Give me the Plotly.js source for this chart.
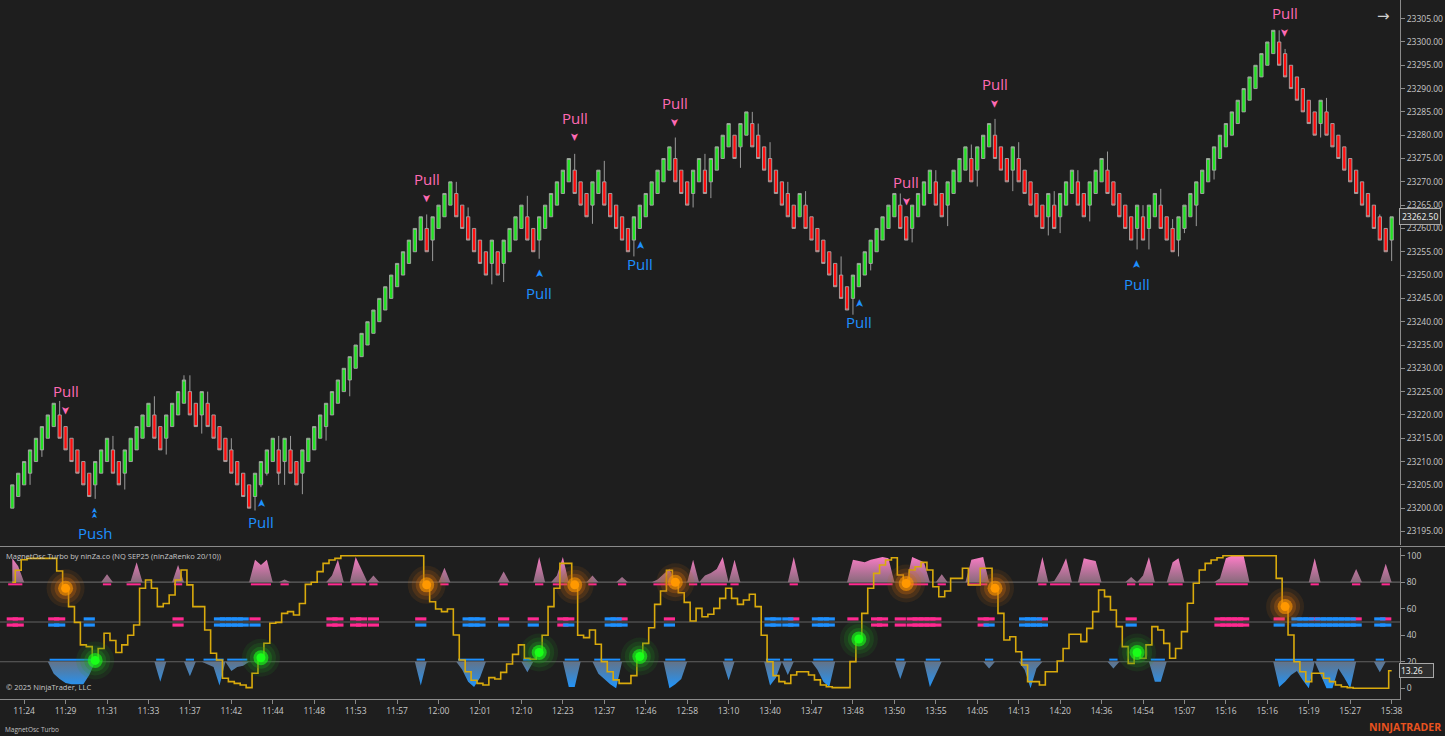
<!DOCTYPE html>
<html>
<head>
<meta charset="utf-8">
<script src="https://cdn.plot.ly/plotly-3.0.1.min.js"></script>
<style>
html,body{margin:0;padding:0;background:#1e1e1e;overflow:hidden;}
#chart{width:1445px;height:736px;}
</style>
</head>
<body>
<div id="chart"></div>
<script>
// ---------------- DATA ----------------
const barOpen = [
23200,23202.5,23205,23207.5,23210,23212.5,23215,23217.5,23220,23217.5,
23215,23212.5,23210,23207.5,23205,23207.5,23210,23212.5,23210,23207.5,
23210,23212.5,23215,23217.5,23220,23217.5,23215,23217.5,23220,23222.5,
23225,23222.5,23220,23222.5,23220,23217.5,23215,23212.5,23210,23207.5,
23205,23202.5,23205,23207.5,23210,23212.5,23210,23212.5,23210,23207.5,
23210,23212.5,23215,23217.5,23220,23222.5,23225,23227.5,23230,23232.5,
23235,23237.5,23240,23242.5,23245,23247.5,23250,23252.5,23255,23257.5,
23260,23257.5,23260,23262.5,23265,23267.5,23265,23262.5,23260,23257.5,
23255,23252.5,23255,23252.5,23255,23257.5,23260,23262.5,23260,23257.5,
23260,23262.5,23265,23267.5,23270,23272.5,23270,23267.5,23265,23267.5,
23270,23267.5,23265,23262.5,23260,23257.5,23260,23262.5,23265,23267.5,
23270,23272.5,23275,23272.5,23270,23267.5,23270,23272.5,23270,23272.5,
23275,23277.5,23280,23277.5,23280,23282.5,23280,23277.5,23275,23272.5,
23270,23267.5,23265,23262.5,23265,23262.5,23260,23257.5,23255,23252.5,
23250,23247.5,23245,23247.5,23250,23252.5,23255,23257.5,23260,23262.5,
23265,23262.5,23260,23262.5,23265,23267.5,23270,23267.5,23265,23267.5,
23270,23272.5,23275,23272.5,23275,23277.5,23280,23277.5,23275,23272.5,
23275,23272.5,23270,23267.5,23265,23262.5,23265,23262.5,23265,23267.5,
23270,23267.5,23265,23267.5,23270,23272.5,23270,23267.5,23265,23262.5,
23260,23262.5,23260,23262.5,23265,23262.5,23260,23257.5,23260,23262.5,
23265,23267.5,23270,23272.5,23275,23277.5,23280,23282.5,23285,23287.5,
23290,23292.5,23295,23297.5,23300,23297.5,23295,23292.5,23290,23287.5,
23285,23282.5,23285,23282.5,23280,23277.5,23275,23272.5,23270,23267.5,
23265,23262.5,23260,23257.5];
const barHigh = [
23205,23207.5,23210,23212.5,23215,23217.5,23220,23222.5,23223,23217.5,
23215,23212.5,23210,23207.5,23210,23212.5,23215,23215.5,23210,23212.5,
23215,23217.5,23220,23222.5,23224,23217.5,23220,23222.5,23225,23228.5,
23228.5,23222.5,23225,23225,23220,23217.5,23215,23215,23210,23207.5,
23205,23207.5,23210,23212.5,23215,23215.5,23215,23215.5,23210,23212.5,
23215,23217.5,23220,23222.5,23225,23227.5,23230,23232.5,23235,23237.5,
23240,23242.5,23245,23247.5,23250,23252.5,23255,23257.5,23260,23262.5,
23263,23262.5,23265,23267.5,23270,23270,23265,23264.5,23260,23257.5,
23255,23257.5,23255,23257.5,23260,23262.5,23265,23267,23260,23262.5,
23265,23267.5,23270,23272.5,23275,23276,23270,23267.5,23270,23272.5,
23274.5,23267.5,23265,23262.5,23260,23262.5,23265,23267.5,23270,23272.5,
23275,23277.5,23279.5,23272.5,23270,23272.5,23275,23276,23275,23277.5,
23280,23282.5,23280,23282.5,23285,23285,23282.5,23277.5,23278.5,23272.5,
23270,23270,23265,23267.5,23268,23262.5,23260,23257.5,23255,23252.5,
23254,23247.5,23250,23252.5,23255,23257.5,23260,23262.5,23265,23267.5,
23267.5,23262.5,23265,23267.5,23270,23272.5,23272.5,23267.5,23270,23272.5,
23275,23277.5,23278,23277.5,23280,23282.5,23283.5,23277.5,23275,23277.5,
23278.5,23272.5,23270,23267.5,23265,23267.5,23268,23267.5,23270,23272.5,
23272.5,23267.5,23270,23272.5,23275,23276.5,23270,23267.5,23265,23262.5,
23265,23265,23265,23267.5,23268.5,23262.5,23262,23262.5,23265,23267.5,
23270,23272.5,23275,23277.5,23280,23282.5,23285,23287.5,23290,23292.5,
23295,23297.5,23300,23302.5,23302.5,23298.5,23295,23292.5,23290,23287.5,
23285,23287.5,23288,23282.5,23280,23277.5,23275,23272.5,23270,23267.5,
23265,23263,23260,23262.5];
const barLow = [
23200,23202.5,23205,23205,23210,23211,23215,23217.5,23215,23212.5,
23210,23207.5,23205,23202.5,23202,23207.5,23210,23207.5,23205,23204,
23210,23212.5,23215,23217.5,23215,23212.5,23211.5,23217.5,23220,23222.5,
23220,23217.5,23216,23217.5,23215,23212.5,23210,23207.5,23205,23202.5,
23200,23199.5,23204.5,23207,23210,23205,23205,23207.5,23205,23203,
23210,23212.5,23215,23214.5,23220,23222.5,23225,23224,23230,23232.5,
23235,23237.5,23240,23242.5,23245,23247.5,23250,23252.5,23255,23257.5,
23255,23253,23260,23262.5,23265,23262.5,23260,23257.5,23255,23252.5,
23250,23248,23250,23248.5,23255,23257.5,23260,23257.5,23255,23253.5,
23260,23262.5,23265,23267.5,23270,23267.5,23265,23262.5,23261,23267.5,
23265,23262.5,23260,23257.5,23255,23254,23260,23262.5,23265,23267.5,
23270,23272.5,23270,23267.5,23265,23264.5,23270,23267.5,23266.5,23272.5,
23275,23277.5,23275,23273,23280,23277.5,23275,23272.5,23270,23267.5,
23265,23262.5,23260,23262.5,23260,23257.5,23255,23252.5,23250,23247.5,
23245,23242.5,23241.5,23247.5,23250,23251,23255,23257.5,23260,23262.5,
23260,23257.5,23257,23262.5,23265,23267.5,23265,23262.5,23260.5,23267.5,
23270,23272.5,23270,23269,23275,23277.5,23275,23272.5,23270,23268,
23270,23267.5,23265,23262.5,23260,23258.5,23260,23259,23265,23267.5,
23265,23262.5,23261.5,23267.5,23270,23267.5,23265,23262.5,23260,23257.5,
23255.5,23257.5,23255.5,23262.5,23260,23257.5,23255,23254,23259,23262.5,
23260.5,23267.5,23270,23270.5,23275,23277.5,23280,23282.5,23285,23287.5,
23290,23292.5,23295,23297.5,23295,23292.5,23290,23287.5,23285,23282.5,
23280,23279.5,23280,23277.5,23275,23272.5,23270,23267.5,23265,23262.5,
23260,23257.5,23255,23253];
const barClose = [
23205,23207.5,23210,23212.5,23215,23217.5,23220,23222.5,23215,23212.5,
23210,23207.5,23205,23202.5,23210,23212.5,23215,23207.5,23205,23212.5,
23215,23217.5,23220,23222.5,23215,23212.5,23220,23222.5,23225,23227.5,
23220,23217.5,23225,23217.5,23215,23212.5,23210,23207.5,23205,23202.5,
23200,23207.5,23210,23212.5,23215,23207.5,23215,23207.5,23205,23212.5,
23215,23217.5,23220,23222.5,23225,23227.5,23230,23232.5,23235,23237.5,
23240,23242.5,23245,23247.5,23250,23252.5,23255,23257.5,23260,23262.5,
23255,23262.5,23265,23267.5,23270,23262.5,23260,23257.5,23255,23252.5,
23250,23257.5,23250,23257.5,23260,23262.5,23265,23257.5,23255,23262.5,
23265,23267.5,23270,23272.5,23275,23267.5,23265,23262.5,23270,23272.5,
23265,23262.5,23260,23257.5,23255,23262.5,23265,23267.5,23270,23272.5,
23275,23277.5,23270,23267.5,23265,23272.5,23275,23267.5,23275,23277.5,
23280,23282.5,23275,23282.5,23285,23277.5,23275,23272.5,23270,23267.5,
23265,23262.5,23260,23267.5,23260,23257.5,23255,23252.5,23250,23247.5,
23245,23242.5,23250,23252.5,23255,23257.5,23260,23262.5,23265,23267.5,
23260,23257.5,23265,23267.5,23270,23272.5,23265,23262.5,23270,23272.5,
23275,23277.5,23270,23277.5,23280,23282.5,23275,23272.5,23270,23277.5,
23270,23267.5,23265,23262.5,23260,23267.5,23260,23267.5,23270,23272.5,
23265,23262.5,23270,23272.5,23275,23267.5,23265,23262.5,23260,23257.5,
23265,23257.5,23265,23267.5,23260,23257.5,23255,23262.5,23265,23267.5,
23270,23272.5,23275,23277.5,23280,23282.5,23285,23287.5,23290,23292.5,
23295,23297.5,23300,23302.5,23295,23292.5,23290,23287.5,23285,23282.5,
23280,23287.5,23280,23277.5,23275,23272.5,23270,23267.5,23265,23262.5,
23260,23257.5,23255,23262.5];

const timeLabels = ['11:24','11:29','11:31','11:33','11:37','11:42','11:44','11:48','11:53','11:57',
  '12:00','12:01','12:10','12:23','12:37','12:46','12:58','13:10','13:40','13:47','13:48','13:50',
  '13:55','14:05','14:13','14:20','14:36','14:54','15:07','15:16','15:16','15:19','15:27','15:38'];

// oscillator (yellow step line)
const oscValue = [
80,89,97,98,98,98,98,98,88.5,75.4,
61.6,49.7,32.7,31.4,21,30,41.5,36,27,32.7,
40,47.7,75.4,81.7,75.4,61.6,64,70.4,81.7,89.2,
78,61.6,61.6,44,26.4,21.3,7.5,5,3.7,2.5,
0.5,11.3,23,34,49,49.7,56.5,57.8,55.3,64,
78.4,80,88,94.2,96.8,98,100,100,100,100,
100,100,100,100,100,100,100,100,100,100,
78,65.3,59.8,57.8,59.8,40.2,21.3,12.5,6,3.7,
2.5,8,7,12,18.3,25.6,32.7,22.6,22,27,
40,61.6,75.4,94.2,94.2,78,40,38.2,44,33.2,
20.1,12.5,6.3,3.7,3.7,9.5,24,33.9,45.7,63.3,
73.4,89,80,72,64.8,50.8,60.3,54,55.8,60.3,
67.8,75.4,67.8,63.3,66.6,70.9,61.6,40,20,9.5,
5,3.7,10,12.5,12.5,10,6.3,2.5,1.2,0.5,
0.5,0.5,20.1,37.2,56.5,75.4,86.7,93,96.8,98.5,
85.4,79,89.2,91.7,95,89.2,76.6,69,73.4,82.9,
82.9,90.5,77.9,77.9,90.5,90.5,75.4,56.5,36.4,38.9,
27.6,17.6,5,5,2.5,12.5,12.5,20.6,30,40.7,
40.7,35.2,45.2,57.8,74.1,69.1,59,46.5,31.4,18.8,
27,22.6,32.7,46.5,44,33.9,22.6,30,42.7,64.1,
79.2,89.2,94.2,96.8,98.5,100,100,100,100,100,
100,100,100,100,82.9,61.6,40.2,20,12.5,5,
11.3,11.3,7.5,5,2.5,1.2,0.5,0,0,0,
0,0,0,13.26];

// overbought (pink, above 80) and oversold (blue, below 20) zones
const pinkIdx = [0,1,16,20,21,28,41,42,43,46,54,55,58,59,61,73,83,89,92,93,98,103,109,110,111,115,117,118,119,120,122,132,142,143,144,145,146,147,148,152,153,154,157,162,163,164,174,176,177,178,181,182,183,189,191,192,196,197,204,205,206,207,208,220,227,232];
const pinkVal = [98,92,86,81,95,93,97,93,97,82,85,97,99,90,85,91,88,99,85,99,85,84,82,86,90,97,85,87,90,99,97,99,97,96,95,97,98,99,98,99,97,95,86,97,98,99,99,81,88,98,98,97,96,84,85,99,95,98,83,98,100,100,100,98,90,94];
const blueIdx = [7,8,9,10,11,12,13,25,30,33,34,35,37,38,39,69,76,77,78,79,87,94,95,99,100,101,102,111,112,113,121,128,129,131,136,137,138,150,155,156,165,171,172,173,186,193,194,214,215,216,217,218,219,221,222,223,224,225,226,231];
const blueVal = [11,7,4,3,3,3,10,5,9,18,16,2,13,16,17,2,14,5,1,8,12,1,1,11,7,3,0,0,3,7,6,2,8,10,14,5,1,7,1,10,15,14,0,15,15,5,5,1,5,10,13,6,0,10,0,0,15,8,0,12];

// signal dashes around the 50 line
const sigTopPink = [0,1,7,8,28,41,54,55,58,59,61,69,83,88,93,94,103,111,132,142,146,147,150,152,153,154,155,156,164,165,174,189,204,205,206,207,208,214,220,227,232];
const sigTopBlue = [13,35,36,37,38,39,77,78,79,101,102,128,129,131,136,137,138,171,172,173,217,218,219,221,222,223,224,225,226,231];
const sigBotPink = [0,1,28,54,55,58,59,61,93,146,147,150,152,153,154,155,156,164,204,205,206,207,208];
const sigBotBlue = [7,8,13,35,36,37,38,39,41,69,77,78,79,83,88,94,101,102,103,111,128,129,131,132,136,137,138,165,171,172,173,174,189,214,217,218,219,220,221,222,223,224,225,226,227,231,232];

// glowing dots
const orangeIdx = [9,70,95,112,151,166,215];
const greenIdx = [14,42,89,106,143,190];

// price signals
const pullDownIdx = [9,70,95,112,151,166,215];
const pullDownPrice = [23221,23266.5,23279.6,23282.8,23265.9,23286.9,23302.1];
const pullUpIdx = [42,89,106,143,190];
const pullUpPrice = [23201.1,23250.2,23256.4,23244,23252.2];
const pushIdx = [14];
const pushPrice = [23198.8];

// ---------------- BUILD ----------------
const N = barClose.length;
const idx = Array.from({length: N}, (_, i) => i);
const W = 1400, H = 699;
const px = x => x / W;
const py = y => (H - y) / H;
const XR = [-2.078, 234.41];
const PINK = '#ff6ab4', BLUE = '#1e90ff', FONT = 'Open Sans, Noto Sans, sans-serif';

const pinkFull = idx.map(() => 80);
pinkIdx.forEach((k, j) => { pinkFull[k] = pinkVal[j]; });
const blueFull = idx.map(() => 20);
blueIdx.forEach((k, j) => { blueFull[k] = blueVal[j]; });

function runs(list) {
  const s = [...list].sort((a, b) => a - b);
  const out = []; let st = s[0], pr = s[0];
  for (let k = 1; k < s.length; k++) {
    if (s[k] === pr + 1) pr = s[k]; else { out.push([st, pr]); st = s[k]; pr = s[k]; }
  }
  out.push([st, pr]);
  return out;
}
function segs(list, yv) {
  const xs = [], ys = [];
  runs(list).forEach(([a, b]) => { xs.push(a - 0.7, b + 0.7, null); ys.push(yv, yv, null); });
  return {xs, ys};
}

const traces = [];
traces.push({
  type: 'candlestick', x: idx, open: barOpen, high: barHigh, low: barLow, close: barClose,
  xaxis: 'x', yaxis: 'y', whiskerwidth: 0, hoverinfo: 'skip', showlegend: false,
  increasing: {fillcolor: '#22e222', line: {color: '#a8a8a8', width: 0.9}},
  decreasing: {fillcolor: '#ff0d0d', line: {color: '#a8a8a8', width: 0.9}}
});

// pink zone
traces.push({type: 'scatter', x: idx, y: idx.map(() => 80), mode: 'lines', line: {width: 0}, xaxis: 'x', yaxis: 'y2', hoverinfo: 'skip', showlegend: false});
traces.push({type: 'scatter', x: idx, y: pinkFull, mode: 'lines', line: {width: 0}, fill: 'tonexty',
  fillcolor: 'rgba(230,130,180,0.85)',
  fillgradient: {type: 'vertical', start: 80, stop: 100, colorscale: [[0, 'rgba(150,115,135,0.9)'], [1, 'rgba(255,125,200,1)']]},
  xaxis: 'x', yaxis: 'y2', hoverinfo: 'skip', showlegend: false});
// blue zone
traces.push({type: 'scatter', x: idx, y: idx.map(() => 20), mode: 'lines', line: {width: 0}, xaxis: 'x', yaxis: 'y2', hoverinfo: 'skip', showlegend: false});
traces.push({type: 'scatter', x: idx, y: blueFull, mode: 'lines', line: {width: 0}, fill: 'tonexty',
  fillcolor: 'rgba(60,140,230,0.85)',
  fillgradient: {type: 'vertical', start: 0, stop: 20, colorscale: [[0, 'rgba(30,150,255,1)'], [1, 'rgba(105,125,150,0.9)']]},
  xaxis: 'x', yaxis: 'y2', hoverinfo: 'skip', showlegend: false});

// zone base lines
const ps = segs(pinkIdx, 78.4), bs = segs(blueIdx, 21.6);
traces.push({type: 'scatter', x: ps.xs, y: ps.ys, mode: 'lines', line: {color: '#ff2a90', width: 2}, xaxis: 'x', yaxis: 'y2', hoverinfo: 'skip', showlegend: false, connectgaps: false});
traces.push({type: 'scatter', x: bs.xs, y: bs.ys, mode: 'lines', line: {color: BLUE, width: 2}, xaxis: 'x', yaxis: 'y2', hoverinfo: 'skip', showlegend: false, connectgaps: false});

// signal dashes
function dash(list, yv, col) {
  return {type: 'scatter', x: list, y: list.map(() => yv), mode: 'markers',
    marker: {symbol: 'line-ew', size: 8, line: {width: 3.2, color: col}},
    xaxis: 'x', yaxis: 'y2', hoverinfo: 'skip', showlegend: false};
}
traces.push(dash(sigTopPink, 52.3, '#ff2a90'));
traces.push(dash(sigTopBlue, 52.3, BLUE));
traces.push(dash(sigBotPink, 47.7, '#ff2a90'));
traces.push(dash(sigBotBlue, 47.7, BLUE));

// yellow oscillator
traces.push({type: 'scatter', x: idx, y: oscValue, mode: 'lines', line: {color: '#d9aa0c', width: 1.6, shape: 'hvh'},
  xaxis: 'x', yaxis: 'y2', hoverinfo: 'skip', showlegend: false});

// glowing dots
function glow(list, halo, core) {
  const layers = [[38, 0.12, halo], [30, 0.18, halo], [22, 0.32, halo], [15, 0.6, core], [9, 1, core]];
  layers.forEach(([s, o, c]) => {
    traces.push({type: 'scatter', x: list, y: list.map(k => oscValue[k]), mode: 'markers',
      marker: {size: s, color: c, opacity: o, line: {width: 0}},
      xaxis: 'x', yaxis: 'y2', hoverinfo: 'skip', showlegend: false});
  });
}
glow(orangeIdx, '#c86a10', '#ff9800');
glow(greenIdx, '#1f9a1f', '#19ff19');

// annotations
const ann = [];
pullDownIdx.forEach((k, j) => {
  ann.push({x: k, y: pullDownPrice[j], xref: 'x', yref: 'y', text: '➤', textangle: 90, showarrow: false,
    font: {size: 11, color: PINK, family: 'DejaVu Sans'}});
  ann.push({x: k, y: pullDownPrice[j], xref: 'x', yref: 'y', text: 'Pull', showarrow: false, yshift: 19,
    font: {size: 15, color: PINK, family: FONT}});
});
pullUpIdx.forEach((k, j) => {
  ann.push({x: k, y: pullUpPrice[j], xref: 'x', yref: 'y', text: '➤', textangle: -90, showarrow: false,
    font: {size: 11, color: BLUE, family: 'DejaVu Sans'}});
  ann.push({x: k, y: pullUpPrice[j], xref: 'x', yref: 'y', text: 'Pull', showarrow: false, yshift: -19,
    font: {size: 15, color: BLUE, family: FONT}});
});
pushIdx.forEach((k, j) => {
  ann.push({x: k, y: pushPrice[j], xref: 'x', yref: 'y', text: '➤', textangle: -90, showarrow: false, yshift: 3,
    font: {size: 8, color: BLUE, family: 'DejaVu Sans'}});
  ann.push({x: k, y: pushPrice[j], xref: 'x', yref: 'y', text: '➤', textangle: -90, showarrow: false, yshift: -2,
    font: {size: 8, color: BLUE, family: 'DejaVu Sans'}});
  ann.push({x: k, y: pushPrice[j], xref: 'x', yref: 'y', text: 'Push', showarrow: false, yshift: -19,
    font: {size: 15, color: BLUE, family: FONT}});
});

ann.push({xref: 'paper', yref: 'paper', x: px(4), y: py(556), xanchor: 'left', yanchor: 'middle', showarrow: false,
  text: 'MagnetOsc Turbo by ninZa.co (NQ SEP25 (ninZaRenko 20/10))', font: {size: 7.5, color: '#c8c8c8', family: FONT}});
ann.push({xref: 'paper', yref: 'paper', x: px(4), y: py(687), xanchor: 'left', yanchor: 'middle', showarrow: false,
  text: '© 2025 NinjaTrader, LLC', font: {size: 7.5, color: '#c8c8c8', family: FONT}});
ann.push({xref: 'paper', yref: 'paper', x: px(3), y: py(729), xanchor: 'left', yanchor: 'middle', showarrow: false,
  text: 'MagnetOsc Turbo', font: {size: 6.5, color: '#c0c0c0', family: FONT}});
ann.push({xref: 'paper', yref: 'paper', x: px(1443), y: py(727), xanchor: 'right', yanchor: 'middle', showarrow: false,
  text: '<b>NINJATRADER</b>', font: {size: 10.5, color: '#e8521f', family: FONT}});
ann.push({xref: 'paper', yref: 'paper', x: px(1383), y: py(16), xanchor: 'center', yanchor: 'middle', showarrow: false,
  text: '→', font: {size: 15, color: '#d0d0d0', family: 'DejaVu Sans'}});
ann.push({xref: 'paper', yref: 'y', x: px(1399), y: barClose[N - 1], xanchor: 'left', yanchor: 'middle', showarrow: false,
  text: barClose[N - 1].toFixed(2), bgcolor: '#2e2e2e', bordercolor: '#a8a8a8', borderwidth: 1, borderpad: 2,
  font: {size: 8.5, color: '#f2f2f2', family: FONT}});
ann.push({xref: 'paper', yref: 'y2', x: px(1399), y: oscValue[N - 1], xanchor: 'left', yanchor: 'middle', showarrow: false,
  text: oscValue[N - 1].toFixed(2) + '&nbsp;&nbsp;&nbsp;&nbsp;', bgcolor: '#2e2e2e', bordercolor: '#a8a8a8', borderwidth: 1, borderpad: 1,
  font: {size: 8.5, color: '#f2f2f2', family: FONT}});

const shapes = [80, 50, 20].map(v => ({type: 'line', xref: 'paper', x0: 0, x1: 1, yref: 'y2', y0: v, y1: v,
  line: {color: '#626262', width: 1.2}, layer: 'below'}));
shapes.push({type: 'line', xref: 'paper', x0: 0, x1: 1445 / W, yref: 'paper', y0: py(546.5), y1: py(546.5),
  line: {color: '#8a8a8a', width: 1}});

const axisCommon = {showgrid: false, zeroline: false, showline: true, linecolor: '#8a8a8a', linewidth: 1,
  ticks: 'outside', ticklen: 4, tickcolor: '#8a8a8a', fixedrange: true};

const layout = {
  width: 1445, height: 736,
  paper_bgcolor: '#1e1e1e', plot_bgcolor: '#1e1e1e',
  margin: {l: 0, r: 45, t: 0, b: 37},
  showlegend: false,
  boxgap: 0.2,
  font: {family: FONT, color: '#c8c8c8', size: 9},
  xaxis: Object.assign({}, axisCommon, {
    range: XR, anchor: 'y2', tickmode: 'array',
    tickvals: timeLabels.map((_, k) => 2 + 7 * k), ticktext: timeLabels,
    tickfont: {size: 8.5, color: '#c8c8c8', family: FONT}, rangeslider: {visible: false}
  }),
  yaxis: Object.assign({}, axisCommon, {
    domain: [0.2203, 1], range: [23192.1, 23309], side: 'right', anchor: 'x',
    tickmode: 'linear', tick0: 23195, dtick: 5, tickformat: '.2f',
    tickfont: {size: 8.5, color: '#c8c8c8', family: FONT}
  }),
  yaxis2: Object.assign({}, axisCommon, {
    domain: [0, 0.216], range: [-8.1, 105.8], side: 'right', anchor: 'x',
    tickmode: 'array', tickvals: [0, 20, 40, 60, 80, 100],
    tickfont: {size: 8.5, color: '#c8c8c8', family: FONT}
  }),
  annotations: ann,
  shapes: shapes
};

Plotly.newPlot('chart', traces, layout, {staticPlot: true, displayModeBar: false});
</script>
</body>
</html>
